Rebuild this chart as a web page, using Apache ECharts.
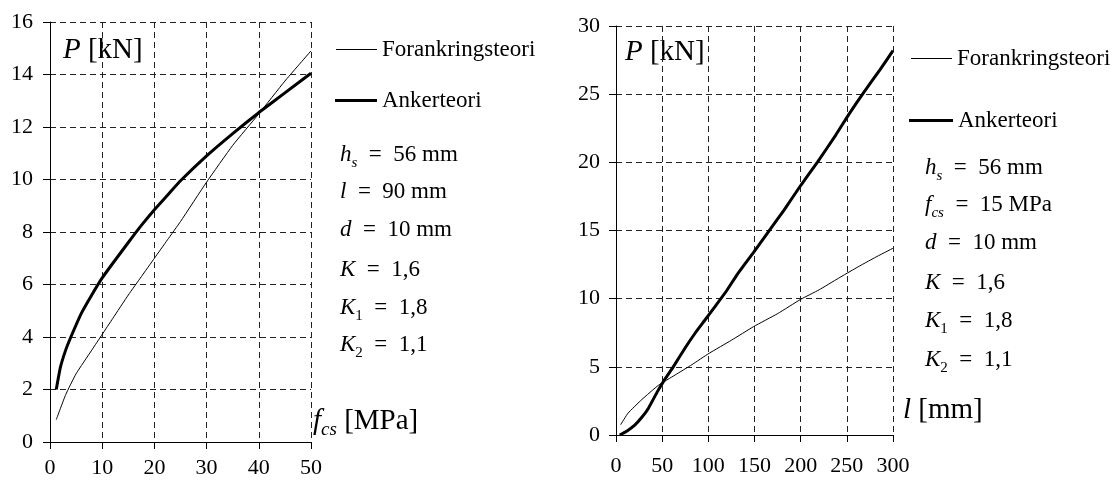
<!DOCTYPE html>
<html>
<head>
<meta charset="utf-8">
<script src="https://cdn.jsdelivr.net/npm/echarts@6/dist/echarts.min.js"></script>
<style>html,body{margin:0;padding:0;background:#fff;}#c{width:1114px;height:485px;}</style>
</head>
<body>
<div id="c"></div>
<script>
// Left chart: P [kN] vs f_cs [MPa]
const leftForankring = [[1.2,0.85],[3,1.8],[5,2.6],[8,3.5],[10,4.1],[12,4.7],[15,5.6],[17.5,6.3],[20,7.0],[22.5,7.7],[25,8.4],[30,9.9],[35,11.3],[40,12.5],[45,13.75],[50,14.9]];
const leftAnker = [[1.2,2.0],[2,2.85],[3,3.5],[4,4.0],[6,4.9],[8,5.6],[10,6.25],[12,6.8],[15,7.6],[17.5,8.25],[20,8.85],[22.5,9.4],[25,9.95],[30,10.9],[35,11.75],[40,12.55],[45,13.3],[50,14.05]];
// Right chart: P [kN] vs l [mm]
const rightForankring = [[5,0.75],[13,1.6],[28,2.6],[46,3.65],[64,4.4],[82,5.15],[101,6.0],[125,6.95],[149,7.95],[175,8.9],[200,9.95],[220,10.65],[241,11.5],[260,12.25],[280,13.0],[300,13.7]];
const rightAnker = [[4,0],[12,0.3],[20,0.7],[28,1.3],[35,1.95],[45,3.2],[53,4.1],[62,5.0],[75,6.4],[86,7.5],[96,8.4],[107,9.4],[120,10.6],[131,11.75],[149,13.4],[165,14.9],[182,16.5],[200,18.3],[218,20.0],[238,22.0],[252,23.5],[268,25.1],[286,26.8],[300,28.2]];

const seriesNames = ['Forankringsteori','Ankerteori'];
const leftParams = ['{i|h}{si|s}{n|\u2002=\u200256 mm}','{i|l}{n|\u2002=\u200290 mm}','{i|d}{n|\u2002=\u200210 mm}','{i|K}{n|\u2002=\u20021,6}','{i|K}{sn|1}{n|\u2002=\u20021,8}','{i|K}{sn|2}{n|\u2002=\u20021,1}'];
const rightParams = ['{i|h}{si|s}{n|\u2002=\u200256 mm}','{i|f}{si|cs}{n|\u2002=\u200215 MPa}','{i|d}{n|\u2002=\u200210 mm}','{i|K}{n|\u2002=\u20021,6}','{i|K}{sn|1}{n|\u2002=\u20021,8}','{i|K}{sn|2}{n|\u2002=\u20021,1}'];
const leftParamY = [155,192,230,270,308,345];
const rightParamY = [168,205,243,283,321,360];

const FF = 'Liberation Serif';
function rich(fs, sfs){
  return {
    i:{fontStyle:'italic',fontSize:fs,fontFamily:FF,lineHeight:fs+8,fill:'#000',color:'#000'},
    n:{fontSize:fs,fontFamily:FF,lineHeight:fs+8,fill:'#000',color:'#000'},
    si:{fontStyle:'italic',fontSize:sfs,fontFamily:FF,lineHeight:sfs+5,verticalAlign:'bottom',fill:'#000',color:'#000'},
    sn:{fontSize:sfs,fontFamily:FF,lineHeight:sfs+5,verticalAlign:'bottom',fill:'#000',color:'#000'}
  };
}
function txt(x,y,t,fs,sfs){
  return {type:'text',x:x,y:y,silent:true,style:{text:t,rich:rich(fs,sfs),fontFamily:FF,fontSize:fs,fill:'#000',verticalAlign:'middle',align:'left'}};
}

const grid = [
  {left:50, top:22, width:261, height:420},
  {left:616, top:26, width:277, height:409}
];
function ax(gi,min,max,iv,margin){
  return {type:'value',gridIndex:gi,min:min,max:max,interval:iv,
    axisLine:{show:true,onZero:false,lineStyle:{color:'#000',width:1}},
    axisTick:{show:true,length:7,lineStyle:{color:'#000'}},
    axisLabel:{margin:margin,fontSize:22,fontFamily:FF,color:'#000'},
    splitLine:{show:true,lineStyle:{type:[6,4],color:'#222',width:1}}};
}
function ser(name,gi,data,w){
  return {type:'line',name:name,xAxisIndex:gi,yAxisIndex:gi,data:data,symbol:'none',showSymbol:false,smooth:0.15,
    lineStyle:{color:'#000',width:w},itemStyle:{color:'#000'},z:5};
}
function leg(name,left,cy,w,h){
  return {show:true,data:[name],left:left,top:Math.round(cy-10-h/2),padding:0,itemWidth:w,itemHeight:h,selectedMode:false,
    icon:'rect',itemStyle:{color:'#000',borderWidth:0},
    textStyle:{fontFamily:FF,fontSize:23,color:'#000'}};
}

const graphics = [];
graphics.push(txt(63,50,'{i|P}{n| [kN]}',29,19));
graphics.push(txt(625,52,'{i|P}{n| [kN]}',29,19));
graphics.push(txt(313,421,'{i|f}{si|cs}{n| [MPa]}',29,19));
graphics.push(txt(903,410,'{i|l}{n| [mm]}',29,19));
leftParams.forEach((t,k)=>graphics.push(txt(340,leftParamY[k],t,23,15)));
rightParams.forEach((t,k)=>graphics.push(txt(925,rightParamY[k],t,23,15)));

const chart = echarts.init(document.getElementById('c'),null,{renderer:'canvas'});
chart.setOption({
  animation:false,
  backgroundColor:'#fff',
  grid:grid,
  xAxis:[ax(0,0,50,10,15),ax(1,0,300,50,20)],
  yAxis:[ax(0,0,16,2,17),ax(1,0,30,5,16)],
  legend:[
    leg(seriesNames[0],336,48,41,1),
    leg(seriesNames[1],335,100,42,3),
    leg(seriesNames[0],911,57,41,1),
    leg(seriesNames[1],909,120,44,3)
  ],
  series:[
    ser(seriesNames[0],0,leftForankring,1),
    ser(seriesNames[1],0,leftAnker,3),
    ser(seriesNames[0],1,rightForankring,1),
    ser(seriesNames[1],1,rightAnker,3)
  ],
  graphic:graphics
});
</script>
</body>
</html>
